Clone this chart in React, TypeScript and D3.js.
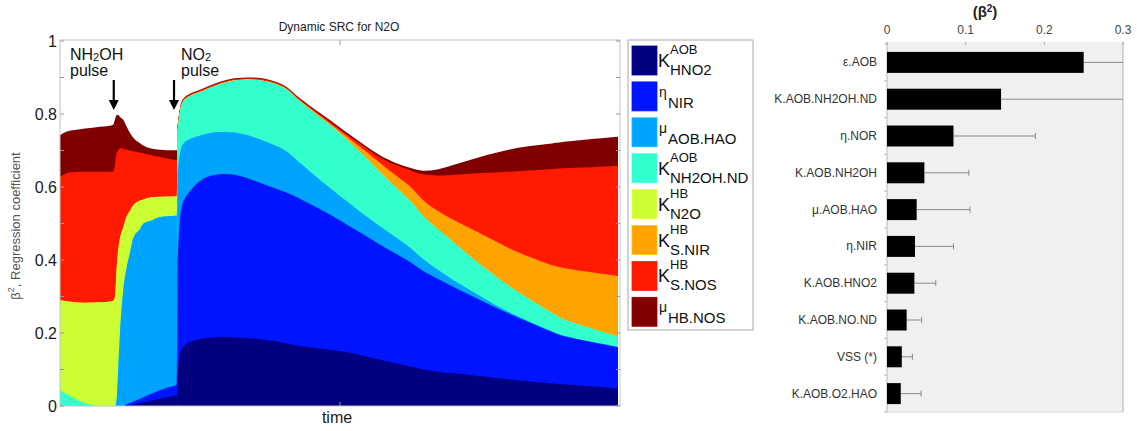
import React from "react";
import * as d3 from "d3";

// ---------- Left chart data (stacked areas over time) ----------
const time = [0, 1.25, 2.68, 4.46, 7.14, 9.46, 9.82, 10.12, 10.41, 10.71, 11.3, 11.91, 12.5, 13.09, 14.29, 14.88, 16.07, 17.86, 19.11, 20.89,
  20.98, 21.43, 21.96, 23.21, 25.54, 28.57, 31.61, 34.46, 37.5, 40.54, 42.32,
  47.86, 50.89, 53.93, 56.79, 59.82, 62.86, 64.64, 67.32, 70.18, 73.21, 76.25, 79.11, 82.14, 87.5, 89.82, 95.89, 99.64];

const kHNO2 = [0, 0, 0, 0, 0, 0, 0, 0, 0, 0, 0, 0, 0.002, 0.004, 0.008, 0.01, 0.014, 0.02, 0.024, 0.03,
  0.09, 0.15, 0.163, 0.178, 0.185, 0.19, 0.188, 0.185, 0.18, 0.172, 0.165,
  0.155, 0.148, 0.14, 0.128, 0.117, 0.108, 0.099, 0.094, 0.09, 0.085, 0.08, 0.075, 0.07, 0.062, 0.06, 0.053, 0.048];
const etaNIR = [0, 0, 0, 0, 0, 0, 0, 0, 0, 0, 0, 0.005, 0.006, 0.008, 0.012, 0.014, 0.018, 0.023, 0.026, 0.028,
  0.31, 0.38, 0.401, 0.412, 0.443, 0.447, 0.446, 0.434, 0.421, 0.413, 0.407,
  0.373, 0.352, 0.333, 0.317, 0.301, 0.285, 0.271, 0.256, 0.237, 0.219, 0.201, 0.185, 0.17, 0.143, 0.13, 0.119, 0.113];
const muHAO = [0, 0, 0, 0, 0, 0, 0, 0.02, 0.108, 0.2, 0.318, 0.375, 0.412, 0.448, 0.465, 0.476, 0.475, 0.475, 0.47, 0.464,
  0.24, 0.17, 0.158, 0.143, 0.117, 0.115, 0.116, 0.119, 0.119, 0.115, 0.1,
  0.073, 0.065, 0.055, 0.051, 0.046, 0.039, 0.033, 0.025, 0.018, 0.014, 0.009, 0.005, 0.003, 0.002, 0.002, 0.001, 0.001];
const kNH2OHND = [0.044, 0.032, 0.02, 0.008, 0, 0, 0, 0, 0, 0, 0, 0, 0, 0, 0, 0, 0, 0, 0, 0,
  0.11, 0.115, 0.116, 0.118, 0.118, 0.132, 0.144, 0.157, 0.169, 0.172, 0.168,
  0.174, 0.17, 0.164, 0.15, 0.137, 0.128, 0.118, 0.112, 0.105, 0.092, 0.083, 0.075, 0.066, 0.051, 0.044, 0.035, 0.028];
const kN2O = [0.246, 0.255, 0.264, 0.275, 0.284, 0.288, 0.3, 0.36, 0.322, 0.26, 0.172, 0.14, 0.115, 0.09, 0.078, 0.066, 0.064, 0.055, 0.054, 0.053,
  0.002, 0.001, 0, 0, 0, 0, 0, 0, 0, 0, 0,
  0, 0, 0, 0, 0, 0, 0, 0, 0, 0, 0, 0, 0, 0, 0, 0, 0];
const kSNIR = [0, 0, 0, 0, 0, 0, 0, 0, 0, 0, 0, 0, 0, 0, 0, 0, 0, 0, 0, 0,
  0.003, 0.002, 0.001, 0.001, 0.001, 0.001, 0.001, 0.001, 0.001, 0.001, 0.001,
  0.004, 0.007, 0.014, 0.024, 0.032, 0.04, 0.043, 0.048, 0.06, 0.077, 0.091, 0.1, 0.109, 0.129, 0.141, 0.156, 0.166];
const kSNOS = [0.338, 0.351, 0.357, 0.359, 0.358, 0.354, 0.36, 0.313, 0.27, 0.246, 0.215, 0.182, 0.165, 0.148, 0.131, 0.126, 0.117, 0.109, 0.104, 0.099,
  0.01, 0.004, 0.003, 0.003, 0.003, 0.003, 0.003, 0.003, 0.003, 0.003, 0.003,
  0.005, 0.005, 0.009, 0.013, 0.027, 0.045, 0.069, 0.096, 0.123, 0.149, 0.175, 0.201, 0.226, 0.261, 0.275, 0.291, 0.302];
const muHBNOS = [0.114, 0.114, 0.115, 0.118, 0.123, 0.128, 0.125, 0.104, 0.097, 0.086, 0.079, 0.063, 0.048, 0.037, 0.026, 0.022, 0.018, 0.02, 0.023, 0.027,
  0.003, 0.002, 0.002, 0.002, 0.002, 0.002, 0.002, 0.002, 0.002, 0.002, 0.002,
  0.004, 0.005, 0.005, 0.005, 0.005, 0.006, 0.01, 0.015, 0.027, 0.038, 0.049, 0.058, 0.065, 0.07, 0.072, 0.078, 0.08];

const seriesKeys = ["kHNO2", "etaNIR", "muHAO", "kNH2OHND", "kN2O", "kSNIR", "kSNOS", "muHBNOS"];
const seriesData = [kHNO2, etaNIR, muHAO, kNH2OHND, kN2O, kSNIR, kSNOS, muHBNOS];
const seriesColors = ["#000080", "#0014ff", "#00a4ff", "#33ffcc", "#ccff33", "#ffa300", "#ff1a00", "#800000"];
const no2PulseIndex = 20; // first sample after the NO2 pulse

const legendMain = ["K", "η", "μ", "K", "K", "K", "K", "μ"];
const legendSup = ["AOB", "", "", "AOB", "HB", "HB", "HB", ""];
const legendSub = ["HNO2", "NIR", "AOB.HAO", "NH2OH.ND", "N2O", "S.NIR", "S.NOS", "HB.NOS"];

const yTickValues = [0, 0.1, 0.2, 0.3, 0.4, 0.5, 0.6, 0.7, 0.8, 0.9, 1];
const yTickLabels = ["0", "", "0.2", "", "0.4", "", "0.6", "", "0.8", "", "1"];

// ---------- Right chart data ----------
const barLabels = ["ε.AOB", "K.AOB.NH2OH.ND", "η.NOR", "K.AOB.NH2OH", "μ.AOB.HAO", "η.NIR", "K.AOB.HNO2", "K.AOB.NO.ND", "VSS (*)", "K.AOB.O2.HAO"];
const barValues = [0.25, 0.145, 0.0845, 0.0475, 0.0377, 0.0356, 0.0348, 0.025, 0.0188, 0.0175];
const barErrors = [0.07, 0.17, 0.104, 0.0565, 0.0678, 0.0489, 0.0272, 0.019, 0.0135, 0.0258];
const barTicks = [0, 0.1, 0.2, 0.3];

const FONT = "'Liberation Sans', Arial, Helvetica, sans-serif";

export default function App() {
  // Left chart
  const L = { left: 60, right: 620, top: 41, bottom: 406 };
  const x = d3.scaleLinear().domain([0, 100]).range([L.left, L.right]);
  const y = d3.scaleLinear().domain([0, 1]).range([L.bottom, L.top]);
  const rows = time.map((t, i) => {
    const r: any = { t };
    seriesKeys.forEach((k, j) => (r[k] = seriesData[j][i]));
    return r;
  });
  const stacked = d3.stack<any>().keys(seriesKeys)(rows);
  const areaPre = d3
    .area<any>()
    .x((d) => x(d.data.t))
    .y0(y(0))
    .y1((d) => y(d[1]))
    .curve(d3.curveMonotoneX);
  const areaPost = d3
    .area<any>()
    .x((d) => x(d.data.t))
    .y0(y(0))
    .y1((d) => y(d[1]))
    .curve(d3.curveBasis);

  // Right chart
  const R = { left: 887, right: 1123, top: 42, bottom: 412 };
  const bx = d3.scaleLinear().domain([0, 0.3]).range([R.left, R.right]);
  const by = d3.scaleBand<string>().domain(barLabels).range([44, 412]).paddingInner(0.43).paddingOuter(0.215);
  const step = by.step();

  const legendTop = (i: number) => 46 + i * 35.9;

  return (
    <svg width={1137} height={431} style={{ position: "absolute", left: 0, top: 0, background: "#fff" }} fontFamily={FONT}>
      <defs>
        <clipPath id="plotclip">
          <rect x={L.left} y={L.top - 1} width={L.right - L.left - 1.5} height={L.bottom - L.top + 1} />
        </clipPath>
      </defs>
      {/* Title */}
      <text x={339} y={31} fontSize={12} textAnchor="middle" fill="#222">Dynamic SRC for N2O</text>

      {/* Areas (cumulative, drawn top layer first so lower layers cover them) */}
      <g clipPath="url(#plotclip)">
        {stacked
          .slice()
          .reverse()
          .map((s) => {
            const c = seriesColors[seriesKeys.indexOf(s.key)];
            const pts = Array.from(s);
            return (
              <g key={s.key}>
                <path d={areaPre(pts.slice(0, no2PulseIndex + 1)) || ""} fill={c} />
                <path d={areaPost(pts.slice(no2PulseIndex)) || ""} fill={c} />
              </g>
            );
          })}
      </g>

      {/* Frame */}
      <rect x={L.left} y={L.top - 1} width={L.right - L.left} height={L.bottom - L.top + 1} fill="none" stroke="#c4c4c4" strokeWidth={1} />
      {yTickValues.map((v, i) => (
        <g key={"yt" + i}>
          <line x1={L.left} x2={L.left + 4} y1={y(v)} y2={y(v)} stroke="#9a9a9a" />
          <line x1={L.right - 4} x2={L.right} y1={y(v)} y2={y(v)} stroke="#9a9a9a" />
          {yTickLabels[i] && (
            <text x={57} y={y(v) + 6} fontSize={16} textAnchor="end" fill="#1a1a1a">{yTickLabels[i]}</text>
          )}
        </g>
      ))}
      <line x1={x(50)} x2={x(50)} y1={L.top - 1} y2={L.top + 4} stroke="#9a9a9a" />
      <line x1={x(50)} x2={x(50)} y1={L.bottom - 4} y2={L.bottom} stroke="#9a9a9a" />

      {/* Axis labels */}
      <text x={337} y={423} fontSize={16} textAnchor="middle" fill="#1a1a1a">time</text>
      <text transform="translate(20,226) rotate(-90)" fontSize={13} textAnchor="middle" fill="#555">
        β<tspan fontSize={9} dy={-6}>2</tspan><tspan dy={6}>, Regression coefficient</tspan>
      </text>

      {/* Annotations */}
      <text x={70} y={60} fontSize={16} fill="#111">NH<tspan fontSize={11} dy={1}>2</tspan><tspan dy={-1}>OH</tspan></text>
      <text x={70} y={76} fontSize={16} fill="#111">pulse</text>
      <text x={181} y={60} fontSize={16} fill="#111">NO<tspan fontSize={11} dy={1}>2</tspan></text>
      <text x={181} y={76} fontSize={16} fill="#111">pulse</text>
      {[x(9.6), x(20.36)].map((ax, i) => (
        <g key={"arr" + i}>
          <line x1={ax} x2={ax} y1={80} y2={101} stroke="#000" strokeWidth={2.2} />
          <polygon points={`${ax - 5},100 ${ax + 5},100 ${ax},110`} fill="#000" />
        </g>
      ))}

      {/* Legend */}
      <rect x={628} y={40} width={125} height={290} fill="#fff" stroke="#a8a8a8" />
      {seriesColors.map((c, i) => {
        const t = legendTop(i);
        const isK = legendMain[i] === "K";
        return (
          <g key={"lg" + i}>
            <rect x={632} y={t} width={25} height={29} fill={c} stroke={d3.color(c)!.brighter(0.5).toString()} strokeWidth={0.8} />
            {isK ? (
              <>
                <text x={658} y={t + 21} fontSize={18} fill="#111">K</text>
                <text x={670} y={t + 8} fontSize={13} fill="#111">{legendSup[i]}</text>
                <text x={670} y={t + 29} fontSize={15} fill="#111">{legendSub[i]}</text>
              </>
            ) : (
              <>
                <text x={659} y={t + 15} fontSize={14} fill="#111">{legendMain[i]}</text>
                <text x={668} y={t + 26} fontSize={15} fill="#111">{legendSub[i]}</text>
              </>
            )}
          </g>
        );
      })}

      {/* Right bar chart */}
      <rect x={R.left} y={R.top} width={R.right - R.left} height={R.bottom - R.top} fill="#f0f0f0" />
      <line x1={R.right} x2={R.right} y1={R.top} y2={R.bottom} stroke="#c8c8c8" strokeWidth={1.5} />
      <line x1={R.left} x2={R.right} y1={R.bottom} y2={R.bottom} stroke="#d4d4d4" strokeWidth={1} />
      <line x1={R.left} x2={R.left} y1={R.top} y2={R.bottom} stroke="#b8b8b8" strokeWidth={1} />
      <text x={985} y={17} fontSize={15} fontWeight="bold" textAnchor="middle" fill="#222">
        (β<tspan fontSize={10} dy={-5}>2</tspan><tspan dy={5}>)</tspan>
      </text>
      {barTicks.map((v) => (
        <g key={"bt" + v}>
          <text x={bx(v)} y={34} fontSize={12} textAnchor="middle" fill="#444">{v === 0 ? "0" : String(v)}</text>
          <line x1={bx(v)} x2={bx(v)} y1={R.top} y2={R.top + 3} stroke="#aaa" />
        </g>
      ))}
      {d3.range(barLabels.length + 1).map((i) => (
        <line key={"ct" + i} x1={R.left - 3} x2={R.left} y1={44 + i * step} y2={44 + i * step} stroke="#bbb" />
      ))}
      {barLabels.map((lab, i) => {
        const yc = (by(lab) as number) + by.bandwidth() / 2;
        const hi = barValues[i] + barErrors[i];
        const clipped = hi > 0.3;
        const ex = bx(Math.min(hi, 0.3));
        return (
          <g key={"bar" + i}>
            <text x={877} y={yc + 4} fontSize={12} textAnchor="end" fill="#333">{lab}</text>
            <line x1={bx(barValues[i])} x2={ex} y1={yc} y2={yc} stroke="#8a8a8a" strokeWidth={1} />
            {!clipped && <line x1={ex} x2={ex} y1={yc - 3} y2={yc + 3} stroke="#8a8a8a" strokeWidth={1} />}
            <rect x={bx(0)} y={by(lab)} width={bx(barValues[i]) - bx(0)} height={by.bandwidth()} fill="#000" />
          </g>
        );
      })}
    </svg>
  );
}
